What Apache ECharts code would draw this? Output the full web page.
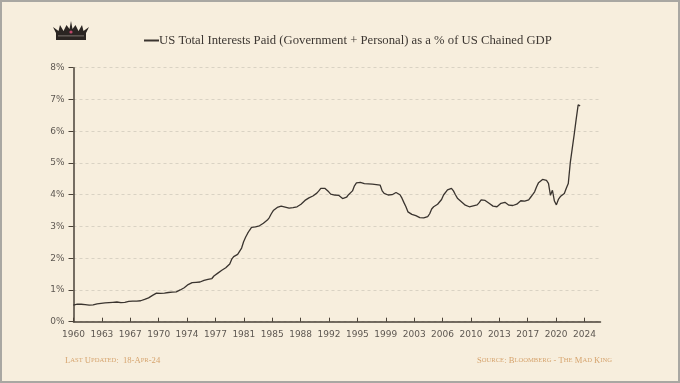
<!DOCTYPE html>
<html>
<head>
<meta charset="utf-8">
<script src="https://cdn.jsdelivr.net/npm/echarts@6/dist/echarts.min.js"></script>
<style>
html,body{margin:0;padding:0;background:#f7eedd;}
#main{width:680px;height:383px;}
</style>
</head>
<body>
<div id="main"></div>
<script>
// ---- Data ----
const seriesName = 'US Total Interests Paid (Government + Personal) as a % of US Chained GDP';
const firstYear = 1960;           // first quarter of the series (quarterly data)
const quarterlyValues = [
  0.52,0.54,0.55,0.55, 0.55,0.55,0.54,0.53, 0.52,0.52,0.53,0.54, 0.56,0.58,0.58,0.59,
  0.59,0.60,0.60,0.61, 0.61,0.61,0.62,0.62, 0.60,0.59,0.61,0.62, 0.64,0.64,0.65,0.65,
  0.65,0.66,0.66,0.67, 0.70,0.72,0.75,0.79, 0.83,0.87,0.90,0.91, 0.89,0.89,0.90,0.91,
  0.92,0.93,0.93,0.94, 0.94,0.97,1.00,1.03, 1.07,1.12,1.17,1.21, 1.23,1.23,1.24,1.24,
  1.25,1.27,1.30,1.32, 1.33,1.34,1.36,1.44, 1.50,1.53,1.57,1.62, 1.66,1.70,1.73,1.82,
  1.97,2.05,2.08,2.12, 2.14,2.32,2.52,2.66, 2.78,2.88,2.97,3.00, 2.99,3.00,3.02,3.06,
  3.10,3.15,3.20,3.28, 3.40,3.50,3.56,3.60, 3.62,3.64,3.63,3.61, 3.59,3.58,3.57,3.59,
  3.60,3.62,3.64,3.70, 3.76,3.82,3.86,3.90, 3.93,3.96,3.99,4.05, 4.12,4.20,4.21,4.20,
  4.18,4.09,4.02,3.99, 3.99,3.98,3.98,3.97, 3.88,3.86,3.92,4.00, 4.02,4.12,4.28,4.37,
  4.38,4.39,4.37,4.35, 4.34,4.34,4.33,4.33, 4.32,4.32,4.31,4.30, 4.12,4.04,4.00,3.99,
  3.98,4.00,4.03,4.07, 4.09,4.00,3.89,3.75, 3.62,3.46,3.41,3.38, 3.36,3.34,3.30,3.28,
  3.26,3.27,3.28,3.31, 3.40,3.55,3.62,3.66, 3.70,3.73,3.85,3.99, 4.05,4.15,4.20,4.20,
  4.12,4.00,3.89,3.85, 3.78,3.72,3.67,3.63, 3.62,3.63,3.65,3.67, 3.68,3.75,3.84,3.86,
  3.82,3.77,3.73,3.68, 3.64,3.60,3.62,3.66, 3.73,3.74,3.76,3.75, 3.67,3.64,3.66,3.68,
  3.70,3.75,3.81,3.80, 3.80,3.81,3.84,3.92, 4.00,4.09,4.25,4.38, 4.44,4.48,4.52,4.45,
  4.36,3.98,4.14,3.80, 3.68,3.85,3.94,3.98, 4.04,4.20,4.35,5.00, 5.45,5.90,6.38,6.83,
  6.80
];
const xTickLabels = ['1960','1963','1967','1970','1974','1977','1981','1985','1988','1992',
                     '1995','1999','2003','2006','2010','2013','2017','2020','2024'];
const xAxisStart = 1960.02;       // date of first labelled tick (decimal year)
const xTickStep = 3.585;          // years between labelled ticks
const xAxisEnd = 2026.57;
const yTickLabels = ['0%','1%','2%','3%','4%','5%','6%','7%','8%'];
const footerLeft = 'Last Updated:  18-Apr-24';
const footerRight = 'Source: Bloomberg - The Mad King';

// ---- Build ----
const lineData = quarterlyValues.map((v, i) => [firstYear + i / 4, v]);
const xTickValues = xTickLabels.map((_, k) => xAxisStart + k * xTickStep);

function smallCaps(str) {
  let out = '';
  let i = 0;
  while (i < str.length) {
    const isLower = /[a-z]/.test(str[i]);
    let j = i;
    while (j < str.length && (/[a-z]/.test(str[j])) === isLower) j++;
    const seg = str.slice(i, j);
    out += isLower ? '{s|' + seg.toUpperCase() + '}' : '{b|' + seg + '}';
    i = j;
  }
  return out;
}
const footColor = '#d6a46e';
const footRich = {
  b: {fontFamily: 'Liberation Serif', fontSize: 8.6, fill: footColor, color: footColor},
  s: {fontFamily: 'Liberation Serif', fontSize: 6.6, fill: footColor, color: footColor}
};

const chart = echarts.init(document.getElementById('main'), null, {renderer: 'canvas'});
const axisColor = '#4a4238';
const labelColor = '#5e5852';
const labelFont = 'DejaVu Sans, sans-serif';

chart.setOption({
  backgroundColor: '#f7eedd',
  animation: false,
  legend: {
    left: 139, top: 29,
    itemWidth: 15, itemHeight: 2, itemGap: 0,
    icon: 'rect',
    textStyle: {fontFamily: 'Liberation Serif', fontSize: 12.7, color: '#3d3732', padding: [0,0,0,-5]},
    data: [seriesName]
  },
  grid: {left: 73.5, right: 79.5, top: 67.7, bottom: 61.3, containLabel: false},
  xAxis: {
    type: 'value',
    min: xAxisStart, max: xAxisEnd,
    splitLine: {show: false},
    axisLine: {show: true, lineStyle: {color: axisColor, width: 1.5}},
    axisTick: {show: true, inside: true, length: 4, customValues: xTickValues, lineStyle: {color: axisColor, width: 1}},
    axisLabel: {
      customValues: xTickValues,
      margin: 8,
      fontFamily: labelFont, fontSize: 9, color: labelColor,
      formatter: (v) => xTickLabels[Math.round((v - xAxisStart) / xTickStep)]
    }
  },
  yAxis: {
    type: 'value',
    min: 0, max: 8, interval: 1,
    axisLine: {show: true, lineStyle: {color: axisColor, width: 1.5}},
    axisTick: {show: true, inside: false, length: 5, lineStyle: {color: axisColor, width: 1}},
    splitLine: {show: true, lineStyle: {color: '#d9d2c3', type: [3, 3], width: 1}},
    axisLabel: {
      margin: 9,
      fontFamily: labelFont, fontSize: 9, color: labelColor,
      formatter: (v) => yTickLabels[Math.round(v)]
    }
  },
  series: [{
    name: seriesName,
    type: 'line',
    data: lineData,
    symbol: 'none',
    lineStyle: {color: '#3a342f', width: 1.3},
    itemStyle: {color: '#3a342f'}
  }],
  graphic: [
    {type: 'rect', silent: true, z: 100,
     shape: {x: 1, y: 1, width: 678, height: 381},
     style: {fill: 'none', stroke: '#a9a7a2', lineWidth: 2}},
    // crown logo
    {type: 'polygon', silent: true,
     shape: {points: [[56,40],[56,33],[53,27],[58.5,31],[60,25],[63.5,31],[66.5,25],[69.5,29],[71,21],[72.5,29],[75.5,25],[78.5,31],[82,25],[83.5,31],[89,27],[86,33],[86,40]]},
     style: {fill: '#2b2522'}},
    {type: 'circle', silent: true, shape: {cx: 71, cy: 32, r: 1.6}, style: {fill: '#c0476a'}},
    {type: 'rect', silent: true, shape: {x: 58, y: 35.5, width: 26, height: 0.8}, style: {fill: '#8f8780'}},
    // footer
    {type: 'text', silent: true, left: 65, top: 356,
     style: {text: smallCaps(footerLeft), rich: footRich}},
    {type: 'text', silent: true, right: 68, top: 356,
     style: {text: smallCaps(footerRight), rich: footRich}}
  ]
});
</script>
</body>
</html>
